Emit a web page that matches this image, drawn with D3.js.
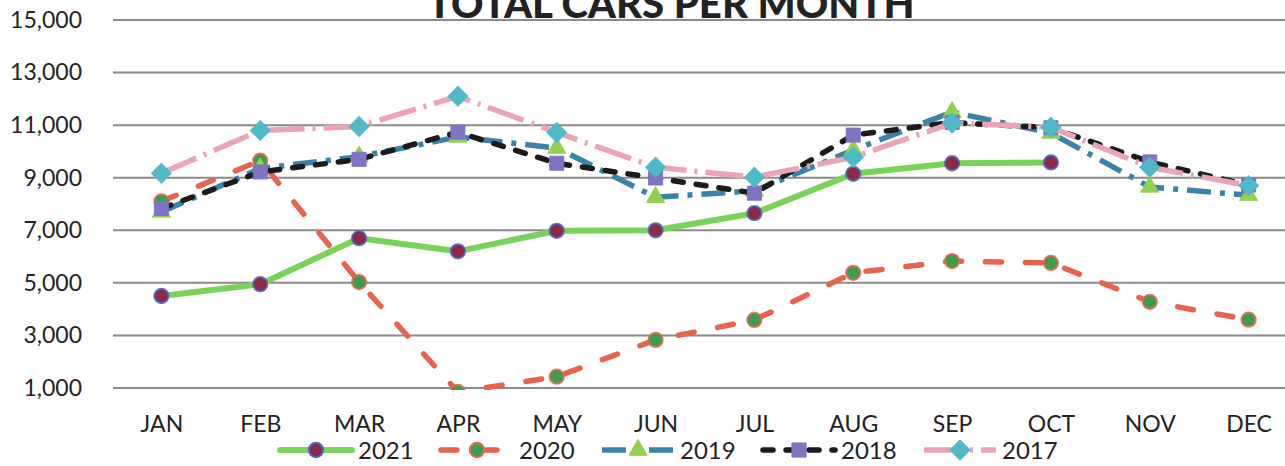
<!DOCTYPE html>
<html>
<head>
<meta charset="utf-8">
<script src="https://cdn.jsdelivr.net/npm/d3@7"></script>
<style>
  html, body { margin: 0; padding: 0; background: #fff; }
  svg { display: block; }
  text { font-family: Lato, "Liberation Sans", Arial, sans-serif; fill: #222; }
</style>
</head>
<body>
<svg id="chart" width="1285" height="466"></svg>
<script>
// ---- data ----
const months = ["JAN","FEB","MAR","APR","MAY","JUN","JUL","AUG","SEP","OCT","NOV","DEC"];
const yTicks = [1000, 3000, 5000, 7000, 9000, 11000, 13000, 15000];
const seriesNames = ["2021", "2020", "2019", "2018", "2017"];
const v2021 = [4500, 4950, 6700, 6200, 6980, 7000, 7650, 9150, 9550, 9580, null, null];
const v2020 = [8100, 9650, 5030, 850, 1430, 2830, 3590, 5380, 5830, 5760, 4280, 3600];
const v2019 = [7700, 9350, 9800, 10550, 10130, 8260, 8500, 10050, 11500, 10700, 8650, 8330];
const v2018 = [7830, 9220, 9700, 10730, 9550, 8990, 8410, 10620, 11100, 10900, 9600, 8720];
const v2017 = [9170, 10800, 10950, 12100, 10720, 9400, 9020, 9780, 11080, 10920, 9400, 8700];
const title = "TOTAL CARS PER MONTH";

// ---- styles ----
const styles = {
  "2021": { color: "#79d35a", width: 6, dash: null, cap: "round", marker: "circle", mfill: "#8e2848", mstroke: "#4d63b8" },
  "2020": { color: "#e8634f", width: 5.5, dash: "16,24", cap: "round", marker: "circle", mfill: "#3a9e4a", mstroke: "#e8634f" },
  "2019": { color: "#3a82a8", width: 5.5, dash: "24,9,5,9", cap: "butt", marker: "triangle", mfill: "#92d050", mstroke: "#92d050" },
  "2018": { color: "#1b1b1b", width: 5.5, dash: "10,13", cap: "round", marker: "square", mfill: "#7d74c4", mstroke: "#7d74c4" },
  "2017": { color: "#eba3b8", width: 5.5, dash: "38,8,3,8", cap: "butt", marker: "diamond", mfill: "#4fb8c9", mstroke: "#4fb8c9" }
};
const valuesByName = { "2021": v2021, "2020": v2020, "2019": v2019, "2018": v2018, "2017": v2017 };

const W = 1285, H = 466;
const svg = d3.select("#chart");

const x = d3.scalePoint().domain(months).range([112, 1298]).padding(0.5);
const y = d3.scaleLinear().domain([1000, 15000]).range([388, 20]);

// gridlines
const grid = svg.append("g");
grid.selectAll("line").data(yTicks).join("line")
  .attr("x1", 113).attr("x2", W)
  .attr("y1", d => y(d)).attr("y2", d => y(d))
  .attr("stroke", "#8a8a8a").attr("stroke-width", 2);

// y axis labels
const yAxis = d3.axisLeft(y).tickValues(yTicks).tickFormat(d3.format(",")).tickSize(0).tickPadding(0);
const yg = svg.append("g").attr("transform", "translate(82,0)").call(yAxis);
yg.select(".domain").remove();
yg.selectAll("text").attr("font-size", 23).attr("fill", "#222")
  .style("font-family", "Lato, 'Liberation Sans', Arial, sans-serif");

// x axis labels
const xAxis = d3.axisBottom(x).tickSize(0).tickPadding(0);
const xg = svg.append("g").attr("transform", "translate(0,415)").call(xAxis);
xg.select(".domain").remove();
xg.selectAll("text").attr("font-size", 23).attr("fill", "#222").attr("dy", "0.72em")
  .style("font-family", "Lato, 'Liberation Sans', Arial, sans-serif");

// clip
svg.append("clipPath").attr("id", "plotclip").append("rect")
  .attr("x", 100).attr("y", 0).attr("width", W).attr("height", y(1000) + 2);

const plot = svg.append("g").attr("clip-path", "url(#plotclip)");

function markerPath(type) {
  if (type === "circle") return d3.symbol().type(d3.symbolCircle).size(160)();
  if (type === "triangle") return d3.symbol().type(d3.symbolTriangle).size(145)();
  if (type === "square") return d3.symbol().type(d3.symbolSquare).size(200)();
}
function markerTransform(type, px, py) {
  if (type === "diamond") return `translate(${px},${py}) rotate(45)`;
  return `translate(${px},${py})`;
}

const line = d3.line()
  .defined(d => d.v !== null)
  .x(d => x(d.m)).y(d => y(d.v));

seriesNames.forEach(name => {
  const st = styles[name];
  const data = months.map((m, i) => ({ m, v: valuesByName[name][i] }));
  const g = plot.append("g");
  g.append("path").datum(data)
    .attr("d", line)
    .attr("fill", "none")
    .attr("stroke", st.color)
    .attr("stroke-width", st.width)
    .attr("stroke-dasharray", st.dash)
    .attr("stroke-linecap", st.cap)
    .attr("stroke-linejoin", "round");
  g.selectAll("path.mk").data(data.filter(d => d.v !== null)).join("path")
    .attr("class", "mk")
    .attr("d", markerPath(st.marker === "diamond" ? "square" : st.marker))
    .attr("transform", d => markerTransform(st.marker, x(d.m), y(d.v)))
    .attr("fill", st.mfill)
    .attr("stroke", st.mstroke)
    .attr("stroke-width", st.marker === "circle" ? 2 : 1)
    .attr("stroke-opacity", 0.85);
});

// title
svg.append("text")
  .attr("x", 671).attr("y", 18)
  .attr("text-anchor", "middle")
  .attr("font-size", 40).attr("font-weight", 900)
  .attr("textLength", 487).attr("lengthAdjust", "spacingAndGlyphs")
  .attr("fill", "#1e1e1e")
  .text(title);

// legend
const legendStep = 161, legendStart = 280, sampleLen = 72, legendY = 450;
const lg = svg.append("g");
seriesNames.forEach((name, i) => {
  const st = styles[name];
  const x0 = legendStart + i * legendStep;
  const item = lg.append("g").attr("transform", `translate(${x0},${legendY})`);
  item.append("line")
    .attr("x1", 0).attr("x2", sampleLen).attr("y1", 0).attr("y2", 0)
    .attr("stroke", st.color).attr("stroke-width", st.width)
    .attr("stroke-dasharray", st.dash)
    .attr("stroke-linecap", st.cap);
  item.append("path")
    .attr("d", markerPath(st.marker === "diamond" ? "square" : st.marker))
    .attr("transform", markerTransform(st.marker, sampleLen / 2, 0))
    .attr("fill", st.mfill).attr("stroke", st.mstroke)
    .attr("stroke-width", st.marker === "circle" ? 2 : 1);
  item.append("text")
    .attr("x", 78).attr("y", 0).attr("dy", "0.36em")
    .attr("font-size", 24).attr("fill", "#222")
    .text(name);
});
</script>
</body>
</html>
